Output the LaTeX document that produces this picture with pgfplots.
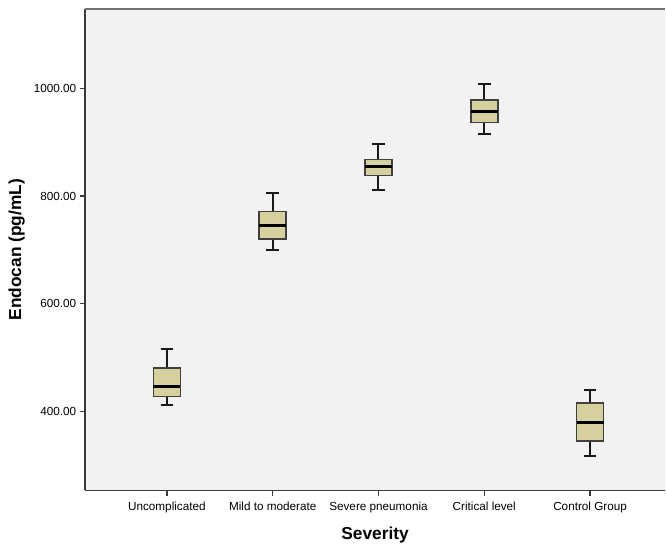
\documentclass[border=0pt]{standalone}
\usepackage{pgfplots}
\pgfplotsset{compat=1.18}
\usepgfplotslibrary{statistics}
\usepackage{fontspec}
\setmainfont{Liberation Sans}
\definecolor{boxfill}{HTML}{D6D09F}
\definecolor{plotbg}{HTML}{F2F2F2}
\definecolor{axcol}{HTML}{3A3A3A}
\begin{document}
\begin{tikzpicture}[x=1pt,y=1pt]
\begin{axis}[
  scale only axis,
  width=435.75pt, height=361.5pt,
  xmin=-0.775, xmax=4.71,
  ymin=253.7, ymax=1147,
  axis x line*=bottom, axis y line*=left,
  axis line style={axcol, line width=1.2pt},
  axis background/.style={fill=plotbg},
  xtick={0,1,2,3,4},
  xticklabels={Uncomplicated,Mild to moderate,Severe pneumonia,Critical level,Control Group},
  ytick={400,600,800,1000},
  tick align=outside,
  major tick length=4pt,
  tick style={axcol, line width=1pt},
  every tick label/.append style={font=\fontsize{8.8}{10}\selectfont, text=black},
  /pgf/number format/assume math mode=true,
  yticklabel style={/pgf/number format/fixed, /pgf/number format/fixed zerofill, /pgf/number format/precision=2, /pgf/number format/1000 sep={}, xshift=1pt},
  xticklabel style={yshift=-1pt},
  xlabel={\bfseries Severity},
  ylabel={\bfseries Endocan (pg/mL)},
  xlabel style={font=\fontsize{13}{15}\selectfont, yshift=-4pt},
  ylabel style={font=\fontsize{13}{15}\selectfont, yshift=0pt},
  clip=false,
  boxplot/draw direction=y,
  boxplot/box extend=0.255,
  boxplot/whisker extend=0.12,
  boxplot/every box/.style={draw=black!75, fill=boxfill, line width=1.1pt},
  boxplot/every whisker/.style={black!90, line width=1.5pt},
  boxplot/every median/.style={black, line width=2.4pt},
]
\addplot+[mark=none, boxplot prepared={draw position=0,
  lower whisker=412.4, lower quartile=428.3, median=446.9,
  upper quartile=480.9, upper whisker=516.7}] coordinates {};
\addplot+[mark=none, boxplot prepared={draw position=1,
  lower whisker=700.0, lower quartile=719.8, median=745.0,
  upper quartile=771.7, upper whisker=806.1}] coordinates {};
\addplot+[mark=none, boxplot prepared={draw position=2,
  lower whisker=810.6, lower quartile=838.3, median=854.3,
  upper quartile=868.0, upper whisker=896.0}] coordinates {};
\addplot+[mark=none, boxplot prepared={draw position=3,
  lower whisker=914.8, lower quartile=936.5, median=956.9,
  upper quartile=978.3, upper whisker=1008.0}] coordinates {};
\addplot+[mark=none, boxplot prepared={draw position=4,
  lower whisker=318.0, lower quartile=345.0, median=379.6,
  upper quartile=416.1, upper whisker=439.5}] coordinates {};
\draw[black!55, line width=1pt] (rel axis cs:0,1) -- (rel axis cs:1,1);
\coordinate (bl) at (rel axis cs:0,0);
\coordinate (tr) at (rel axis cs:1,1);
\end{axis}
\path[use as bounding box] ([xshift=-63.75pt, yshift=-39pt]bl) rectangle ([yshift=6.75pt]tr);
\end{tikzpicture}
\end{document}
